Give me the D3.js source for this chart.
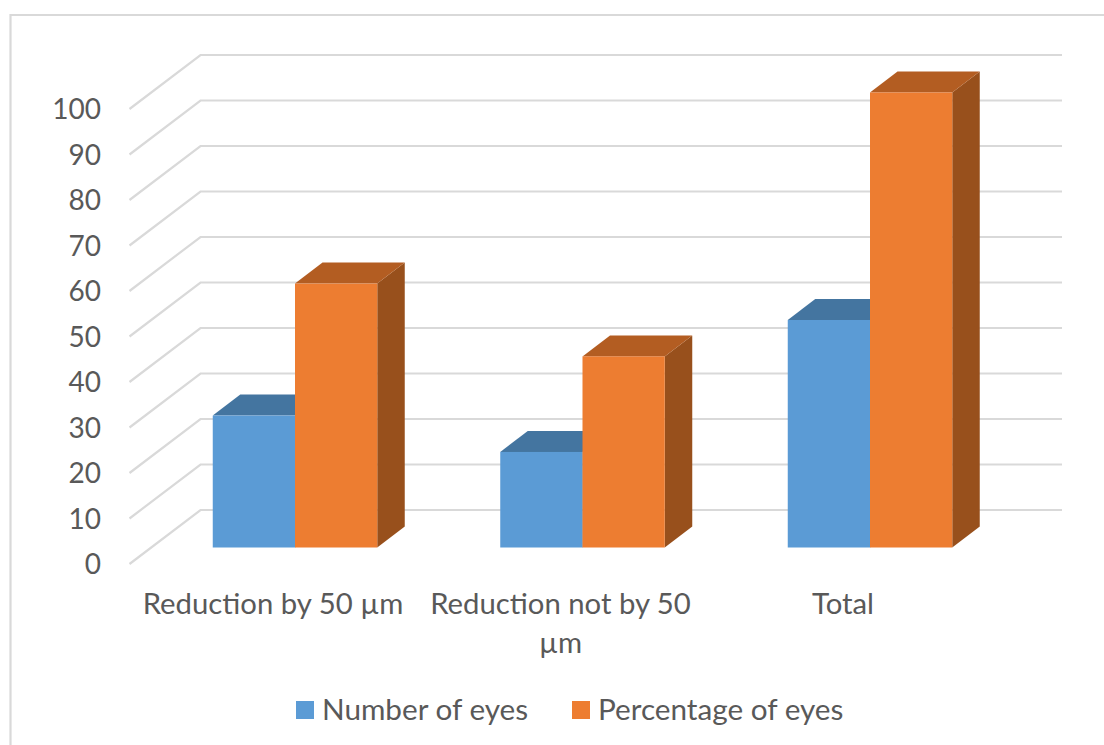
<!DOCTYPE html>
<html>
<head>
<meta charset="utf-8">
<script src="https://cdn.jsdelivr.net/npm/d3@7/dist/d3.min.js"></script>
<style>
html,body{margin:0;padding:0;background:#fff}
svg{display:block}
text{font-family:Lato,"Open Sans",sans-serif;fill:#595959}
</style>
</head>
<body>
<svg id="chart" width="1104" height="745"></svg>
<script>
const categories = ["Reduction by 50 µm", "Reduction not by 50 µm", "Total"];
const seriesNames = ["Number of eyes", "Percentage of eyes"];
const numberOfEyes = [29, 21, 50];
const percentageOfEyes = [58, 42, 100];
const tickValues = [0,10,20,30,40,50,60,70,80,90,100];
const faceColors = ["#5b9bd5", "#ed7d31"];
const topColors = ["#4475a0", "#b35d22"];
const sideColors = ["#3e6a91", "#98501c"];

const svg = d3.select("#chart");

// Chart frame: top and left edges, open towards the right and bottom
svg.append("path").attr("d","M1104,15H10.5V745")
  .attr("fill","none").attr("stroke","#d9d9d9").attr("stroke-width",2.2);

// Front plane of the floor and back wall of the 3D box share one value scale
const wallDepth = {dx:71, dy:-54};
const yFront = d3.scaleLinear().domain([0,100]).range([564,109]);
const wallLeft = 129.5, wallBackLeft = wallLeft + wallDepth.dx, wallRight = 1062;

const grid = svg.append("g").attr("fill","none").attr("stroke","#d9d9d9").attr("stroke-width",2.2);
tickValues.forEach(v=>{
  const y = yFront(v);
  grid.append("path").attr("d",d3.line()([[wallLeft,y],[wallBackLeft,y+wallDepth.dy],[wallRight,y+wallDepth.dy]]));
});

// Value axis labels
svg.append("g").selectAll("text").data(tickValues).join("text")
  .attr("x",101).attr("y",d=>yFront(d)+10)
  .attr("text-anchor","end").attr("font-size",28).text(d=>d);

// Bars sit inside the box, so they use a scale offset from the front plane
const barDepth = {dx:27.5, dy:-21};
const yBar = d3.scaleLinear().domain([0,100]).range([547.5,92.5]);
const x0 = d3.scaleBand().domain(categories).range([151.25,1013.75]).padding(0);
const barWidth = 82.25;
const groupOffset = i => x0(categories[i]) + (x0.bandwidth()-2*barWidth)/2;

const series = [numberOfEyes, percentageOfEyes];
const bars = svg.append("g");
// Draw series per category, blue first so the orange box overlaps its depth faces
categories.forEach((c,ci)=>{
  series.forEach((vals,si)=>{
    const v = vals[ci];
    const x = groupOffset(ci) + si*barWidth, w = barWidth;
    const yt = yBar(v), yb = yBar(0);
    const {dx,dy} = barDepth;
    const poly = pts => d3.line()(pts)+"Z";
    bars.append("path").attr("fill",sideColors[si])
      .attr("d",poly([[x+w,yt],[x+w+dx,yt+dy],[x+w+dx,yb+dy],[x+w,yb]]));
    bars.append("path").attr("fill",topColors[si])
      .attr("d",poly([[x,yt],[x+dx,yt+dy],[x+w+dx,yt+dy],[x+w,yt]]));
    bars.append("rect").attr("x",x).attr("y",yt).attr("width",w).attr("height",yb-yt)
      .attr("fill",faceColors[si]);
  });
});

// Category labels, the long one wraps to a second line
const catLines = [["Reduction by 50 µm"],["Reduction not by 50","µm"],["Total"]];
const catCentres = [273,560.5,843];
const catG = svg.append("g");
catLines.forEach((lines,i)=>lines.forEach((t,j)=>{
  catG.append("text").attr("x",catCentres[i]).attr("y",614+j*39)
    .attr("text-anchor","middle").attr("font-size",29.3).text(t);
}));

// Legend
const legendX = [296,572];
const legend = svg.append("g");
seriesNames.forEach((n,i)=>{
  legend.append("rect").attr("x",legendX[i]).attr("y",701).attr("width",18).attr("height",18).attr("fill",faceColors[i]);
  legend.append("text").attr("x",legendX[i]+26).attr("y",720).attr("font-size",29.7).text(n);
});
</script>
</body>
</html>
